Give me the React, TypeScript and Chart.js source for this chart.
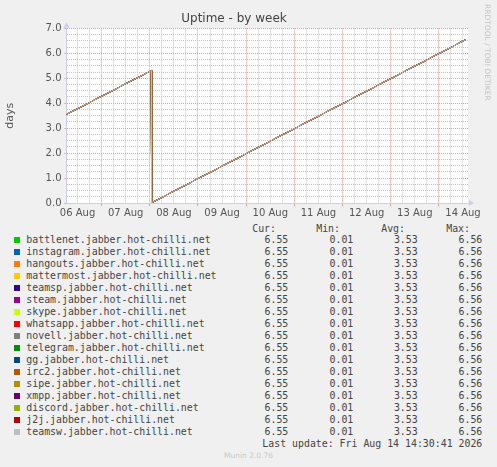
import { useEffect, useRef } from "react";
import { Chart, registerables } from "chart.js";

Chart.register(...registerables);

// uptime samples (day of August, fractional) and uptime in days
const uptimeTimes = [6.271, 8.031, 8.037, 14.56];
const uptimeValues = [3.55, 5.31, 0.01, 6.55];

const seriesNames = [
  "battlenet.jabber.hot-chilli.net",
  "instagram.jabber.hot-chilli.net",
  "hangouts.jabber.hot-chilli.net",
  "mattermost.jabber.hot-chilli.net",
  "teamsp.jabber.hot-chilli.net",
  "steam.jabber.hot-chilli.net",
  "skype.jabber.hot-chilli.net",
  "whatsapp.jabber.hot-chilli.net",
  "novell.jabber.hot-chilli.net",
  "telegram.jabber.hot-chilli.net",
  "gg.jabber.hot-chilli.net",
  "irc2.jabber.hot-chilli.net",
  "sipe.jabber.hot-chilli.net",
  "xmpp.jabber.hot-chilli.net",
  "discord.jabber.hot-chilli.net",
  "j2j.jabber.hot-chilli.net",
  "teamsw.jabber.hot-chilli.net",
];
const seriesColors = [
  "#00CC00", "#0066B3", "#FF8000", "#FFCC00", "#330099", "#990099",
  "#CCFF00", "#FF0000", "#808080", "#008F00", "#00487D", "#B35A00",
  "#B38F00", "#6B006B", "#8FB300", "#B30000", "#BEBEBE",
];
const curValues = [6.55, 6.55, 6.55, 6.55, 6.55, 6.55, 6.55, 6.55, 6.55, 6.55, 6.55, 6.55, 6.55, 6.55, 6.55, 6.55, 6.55];
const minValues = [0.01, 0.01, 0.01, 0.01, 0.01, 0.01, 0.01, 0.01, 0.01, 0.01, 0.01, 0.01, 0.01, 0.01, 0.01, 0.01, 0.01];
const avgValues = [3.53, 3.53, 3.53, 3.53, 3.53, 3.53, 3.53, 3.53, 3.53, 3.53, 3.53, 3.53, 3.53, 3.53, 3.53, 3.53, 3.53];
const maxValues = [6.56, 6.56, 6.56, 6.56, 6.56, 6.56, 6.56, 6.56, 6.56, 6.56, 6.56, 6.56, 6.56, 6.56, 6.56, 6.56, 6.56];

const xTickDays = [6.5, 7.5, 8.5, 9.5, 10.5, 11.5, 12.5, 13.5, 14.5];
const xTickLabels = ["06 Aug", "07 Aug", "08 Aug", "09 Aug", "10 Aug", "11 Aug", "12 Aug", "13 Aug", "14 Aug"];
const yTickValues = [0, 1, 2, 3, 4, 5, 6, 7];
const yTickLabels = ["0.0", "1.0", "2.0", "3.0", "4.0", "5.0", "6.0", "7.0"];

const X_MIN = 6.2708;
const X_MAX = 14.6042;

const MAJOR = "#E29A9A";
const MINOR = "#C2C2C2";
const AXIS = "#C9CEF2";
const FONT = "DejaVu Sans";
const MONO = "DejaVu Sans Mono";

const isWhole = (v: number) => Math.abs(v - Math.round(v)) < 1e-6;

const munin = {
  id: "munin",
  beforeDraw(chart: any) {
    const { ctx, chartArea: a } = chart;
    ctx.save();
    ctx.fillStyle = "#FFFFFF";
    ctx.fillRect(a.left, a.top, a.right - a.left, a.bottom - a.top);
    ctx.restore();
  },
  afterDraw(chart: any) {
    const { ctx, chartArea: a } = chart;
    ctx.save();
    ctx.fillStyle = AXIS;
    // arrow on y axis
    ctx.beginPath();
    ctx.moveTo(a.left - 3, a.top - 1);
    ctx.lineTo(a.left + 3, a.top - 1);
    ctx.lineTo(a.left, a.top - 6);
    ctx.closePath();
    ctx.fill();
    // arrow on x axis
    ctx.beginPath();
    ctx.moveTo(a.right + 1, a.bottom - 3);
    ctx.lineTo(a.right + 1, a.bottom + 3);
    ctx.lineTo(a.right + 6, a.bottom);
    ctx.closePath();
    ctx.fill();
    ctx.restore();
  },
};

const UptimeChart: React.FC = () => {
  const canvasRef = useRef<HTMLCanvasElement | null>(null);
  const chartRef = useRef<Chart<"line"> | null>(null);

  useEffect(() => {
    if (!canvasRef.current) return;
    const ctx = canvasRef.current.getContext("2d");
    if (!ctx) return;
    if (chartRef.current) chartRef.current.destroy();

    const points = uptimeTimes.map((t, i) => ({ x: t, y: uptimeValues[i] }));

    chartRef.current = new Chart(ctx, {
      type: "line",
      data: {
        datasets: seriesNames.map((name, i) => ({
          label: name,
          data: points,
          borderColor: seriesColors[i],
          borderWidth: 1,
          pointRadius: 0,
          tension: 0,
          order: seriesNames.length - i,
        })),
      },
      options: {
        responsive: false,
        animation: false,
        layout: { padding: { left: 0, right: 29, top: 0, bottom: 0 } },
        plugins: {
          legend: { display: false },
          tooltip: { enabled: false },
          title: {
            display: true,
            text: "Uptime - by week",
            color: "#444",
            font: { family: FONT, size: 12, weight: "normal" },
            padding: { top: 12, bottom: 2 },
          },
        },
        scales: {
          x: {
            type: "linear",
            min: X_MIN,
            max: X_MAX,
            afterBuildTicks: (scale: any) => {
              const t = [];
              for (let d = 6.25; d <= X_MAX; d += 0.25) if (d > X_MIN) t.push({ value: d });
              scale.ticks = t;
            },
            afterFit: (scale: any) => {
              scale.height = 19;
            },
            ticks: {
              autoSkip: false,
              maxRotation: 0,
              padding: 1,
              color: "#555",
              font: { family: FONT, size: 10 },
              callback: (v: any) => {
                const i = xTickDays.findIndex((d) => Math.abs(d - Number(v)) < 1e-6);
                return i >= 0 ? xTickLabels[i] : "";
              },
            },
            grid: {
              color: (c: any) => (c.tick && isWhole(c.tick.value) ? MAJOR : MINOR),
              tickColor: (c: any) => (c.tick && isWhole(c.tick.value) ? MAJOR : "rgba(0,0,0,0)"),
              tickLength: 3,
              lineWidth: 1,
            },
            border: { color: AXIS, width: 1, dash: [1, 1] },
          },
          y: {
            min: 0,
            max: 7,
            afterBuildTicks: (scale: any) => {
              const t = [];
              for (let i = 0; i <= 28; i++) t.push({ value: i * 0.25 });
              scale.ticks = t;
            },
            afterFit: (scale: any) => {
              scale.width = 66.5;
            },
            title: {
              display: true,
              text: "days",
              color: "#555",
              font: { family: FONT, size: 11 },
              padding: { top: 4, bottom: 4 },
            },
            ticks: {
              autoSkip: false,
              padding: 3,
              color: "#555",
              font: { family: FONT, size: 10 },
              callback: (v: any) => {
                const i = yTickValues.findIndex((y) => Math.abs(y - Number(v)) < 1e-6);
                return i >= 0 ? yTickLabels[i] : "";
              },
            },
            grid: {
              color: (c: any) => (c.tick && isWhole(c.tick.value) ? MAJOR : MINOR),
              tickColor: (c: any) => (c.tick && isWhole(c.tick.value) ? MAJOR : "rgba(0,0,0,0)"),
              tickLength: 2,
              lineWidth: 1,
            },
            border: { color: AXIS, width: 1, dash: [1, 1] },
          },
        },
      },
      plugins: [munin],
    });

    return () => {
      if (chartRef.current) {
        chartRef.current.destroy();
        chartRef.current = null;
      }
    };
  }, []);

  return <canvas ref={canvasRef} width={497} height={222} style={{ position: "absolute", left: 0, top: 0 }} />;
};

const ROW0 = 233.5;
const ROW_H = 12;
const numCols = [288.3, 353.3, 417.7, 482.3];
const headCols = [276, 340, 405, 470];
const headers = ["Cur:", "Min:", "Avg:", "Max:"];

const text: React.CSSProperties = {
  position: "absolute",
  fontFamily: MONO,
  fontSize: "9.9px",
  lineHeight: "12px",
  color: "#444",
  whiteSpace: "pre",
};

const rightAt = (x: number): React.CSSProperties => ({ right: 497 - x });

export default function App() {
  const stats = [curValues, minValues, avgValues, maxValues];
  return (
    <div style={{ position: "absolute", left: 0, top: 0, width: 497, height: 467, background: "#F0F0F0", overflow: "hidden" }}>
      <UptimeChart />
      <div
        style={{
          position: "absolute",
          left: 483,
          top: 4,
          writingMode: "vertical-rl",
          fontFamily: FONT,
          fontSize: "7.5px",
          color: "#C4C4C4",
          whiteSpace: "pre",
        }}
      >
        RRDTOOL / TOBI OETIKER
      </div>
      {headers.map((h, j) => (
        <div key={h} style={{ ...text, top: ROW0 - 11, ...rightAt(headCols[j]) }}>
          {h}
        </div>
      ))}
      {seriesNames.map((name, i) => (
        <div key={name}>
          <div style={{ position: "absolute", left: 14, top: ROW0 + i * ROW_H + 3, width: 6, height: 6, background: seriesColors[i] }} />
          <div style={{ ...text, left: 26.3, top: ROW0 + i * ROW_H }}>{name}</div>
          {stats.map((col, j) => (
            <div key={j} style={{ ...text, top: ROW0 + i * ROW_H, ...rightAt(numCols[j]) }}>
              {col[i].toFixed(2)}
            </div>
          ))}
        </div>
      ))}
      <div style={{ ...text, top: 437.5, ...rightAt(482.3) }}>Last update: Fri Aug 14 14:30:41 2026</div>
      <div
        style={{
          position: "absolute",
          left: 0,
          width: 497,
          top: 451,
          textAlign: "center",
          fontFamily: FONT,
          fontSize: "7.5px",
          color: "#C8C8C8",
        }}
      >
        Munin 2.0.76
      </div>
    </div>
  );
}
